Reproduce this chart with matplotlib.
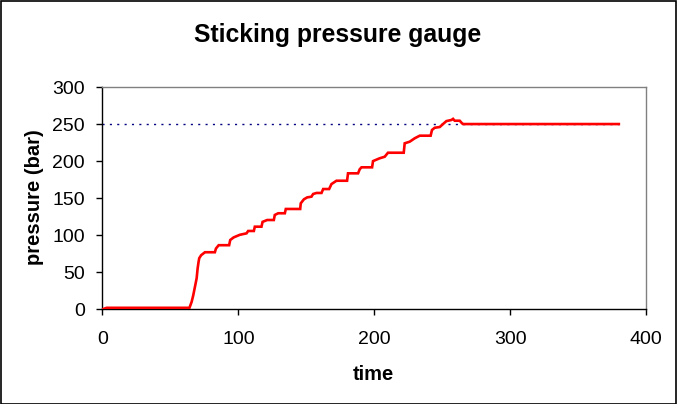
import matplotlib
matplotlib.use("Agg")
import matplotlib.pyplot as plt
from matplotlib.patches import Rectangle

plt.rcParams['font.family'] = ['Liberation Sans', 'DejaVu Sans']

title = "Sticking pressure gauge"
x_label = "time"
y_label = "pressure (bar)"

time = [0, 3, 64, 65.6, 66.8, 68, 69.3, 70, 70.7, 71.2, 72.6, 75.4, 82.7, 83.5,
        85.5, 93.2, 94, 96.5, 101, 106, 107.2, 111.4, 112.1, 117, 117.8, 121.2,
        126.1, 126.8, 129.3, 134.2, 134.9, 145.5, 145.9, 148.2, 150.6, 153.8,
        155, 157.5, 161.2, 162.4, 166.8, 168.5, 172.2, 180, 180.7, 188.1, 189.3,
        190.6, 198.4, 199.1, 204, 207.7, 210.1, 221.7, 222.4, 226.1, 229.8,
        233.5, 241.5, 242.5, 244.5, 248.2, 250.6, 253.1, 256.8, 258, 259.2,
        262.9, 264.6, 265.3, 380]
pressure = [0, 2, 2, 10, 19, 30, 42, 55, 64, 69, 73, 77, 77, 82,
            86.5, 86.5, 93.5, 97, 100.5, 102.5, 105.7, 105.7, 111.5, 111.5, 118, 120.5,
            120.5, 127.3, 129.6, 129.6, 135.4, 135.4, 143, 148.4, 151, 152,
            155.6, 157, 157, 162.3, 162.3, 169, 173.5, 173.5, 183.5, 183.5, 189,
            191.6, 191.6, 200, 203.8, 205.9, 211.3, 211.3, 224, 226.2, 230.8,
            234.3, 234.3, 242, 245, 246, 250, 254, 255.5, 257, 254.5,
            254.5, 251, 250, 250]

setpoint_time = [0, 380]
setpoint_pressure = [250, 250]

x_ticks = [0, 100, 200, 300, 400]
y_ticks = [0, 50, 100, 150, 200, 250, 300]

fig = plt.figure(figsize=(6.77, 4.04), dpi=100)
ax = fig.add_axes([102.5 / 677, 1 - 309.3 / 404, (646 - 102.5) / 677, (309.3 - 87) / 404])

lw_dot = 1.0
ax.plot(setpoint_time, setpoint_pressure, color='#000080', lw=lw_dot,
        linestyle=(0, (1.5 / lw_dot, 3.8 / lw_dot)), zorder=2)
ax.plot(time, pressure, color='#ff0000', lw=1.9, zorder=3, solid_joinstyle='miter')

ax.set_xlim(0, 400)
ax.set_ylim(0, 300)
ax.set_xticks(x_ticks)
ax.set_yticks(y_ticks)

for s in ['top', 'right']:
    ax.spines[s].set_color('#808080')
for s in ['left', 'bottom']:
    ax.spines[s].set_color('black')
for s in ax.spines.values():
    s.set_linewidth(1)

ax.tick_params(axis='x', direction='out', length=4, width=1, labelsize=14, pad=11.5)
ax.tick_params(axis='y', direction='out', length=4.3, width=1, labelsize=14, pad=8.5)

ax.set_xlabel(x_label, fontsize=14.5, fontweight='bold', va='baseline')
ax.xaxis.set_label_coords(0.4986, (309.3 - 380) / 222.3)
ax.set_ylabel(y_label, fontsize=14.5, fontweight='bold', va='baseline')
ax.yaxis.set_label_coords((40 - 102.5) / 543.5, 0.503)

fig.text(338 / 677, 1 - 42 / 404, title, ha='center', va='baseline',
         fontsize=17.8, fontweight='bold')

fig.patches.append(Rectangle((0.5 / 677, 0.5 / 404), 1 - 1.5 / 677, 1 - 1.5 / 404,
                             transform=fig.transFigure, fill=False,
                             edgecolor='black', lw=1.2, zorder=10))

fig.savefig('out.png', dpi=100)
